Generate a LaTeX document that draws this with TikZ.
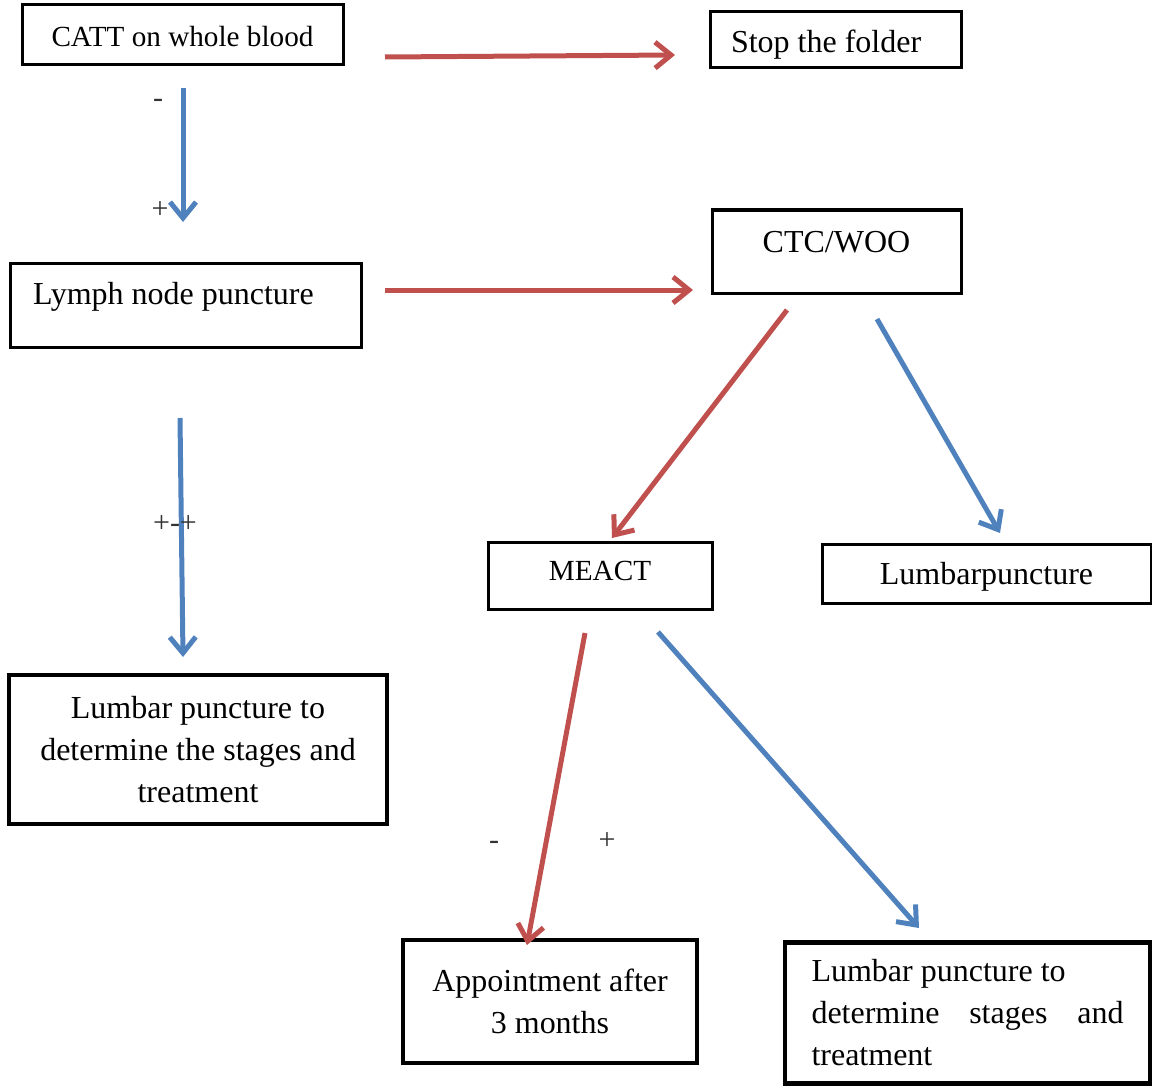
\documentclass[tikz,border=0pt]{standalone}
\usepackage{fontspec}
\setmainfont{Liberation Serif}
\usetikzlibrary{arrows.meta}
\definecolor{flowred}{RGB}{192,80,77}
\definecolor{flowblue}{RGB}{79,129,189}
\begin{document}
\begin{tikzpicture}[x=0.5pt,y=0.5pt,yscale=-1,
    box/.style={draw, line width=1.5pt, inner sep=0pt, font=\fontsize{16}{21}\selectfont},
    heavybox/.style={box, line width=2.4pt},
    smalltext/.style={font=\fontsize{14.6}{21}\selectfont},
    redarrow/.style={draw=flowred, line width=2.5pt, -{Straight Barb[length=8pt,width=13pt]}},
    bluearrow/.style={draw=flowblue, line width=2.5pt, -{Straight Barb[length=8pt,width=13pt]}},
    sign/.style={inner sep=0pt, text=black!80, font=\fontsize{15}{15}\selectfont}]
		\useasboundingbox (0,0) rectangle (1152,1086);
		
		% Boxes
		\node [box, smalltext, minimum width=160.5pt, minimum height=30pt, text height=11.6pt, text depth=0pt] (catt) at (182.5,35) {CATT on whole blood};
		\node [box, minimum width=125.5pt, minimum height=28pt, text width=104.5pt, align=flush left, text height=12.6pt, text depth=0pt] (stopfolder) at (835.5,40) {Stop the folder};
		\node [box, minimum width=175.5pt, minimum height=42pt, text width=152.5pt, align=flush left, text height=11pt, text depth=11.4pt] (lymph) at (185.5,305) {Lymph node puncture};
		\node [box, minimum width=124.5pt, minimum height=41.5pt, text height=11pt, text depth=9.9pt] (ctc) at (836.5,251.5) {CTC/WOO};
		\node [box, smalltext, minimum width=112pt, minimum height=33.5pt, text height=11pt, text depth=5.9pt] (meact) at (600,575.5) {MEACT};
		\node [box, minimum width=164.5pt, minimum height=29.5pt, text height=11.1pt, text depth=0pt] (lumbar) at (986.5,573.5) {Lumbarpuncture};
		\node [heavybox, minimum width=189pt, minimum height=74.5pt, align=center] (lumbstage) at (198,749.5) {Lumbar puncture to\\determine the stages and\\treatment};
		\node [heavybox, minimum width=147pt, minimum height=61.5pt, align=center] (appoint) at (550,1001.5) {Appointment after\\3 months};
		\node [heavybox, minimum width=182.5pt, minimum height=70.5pt, text width=156pt, align=flush left] (lumbtreat) at (967.5,1013) {Lumbar puncture to\\determine\hfill stages\hfill and\\treatment};
		
		% Arrow ends
		\coordinate (a1s) at (385,57);  \coordinate (a1e) at (675,55);
		\coordinate (a2s) at (183,88);  \coordinate (a2e) at (183,222);
		\coordinate (a3s) at (385,290); \coordinate (a3e) at (693,290);
		\coordinate (a4s) at (180,418); \coordinate (a4e) at (183,657);
		\coordinate (a5s) at (787,310); \coordinate (a5e) at (612,538);
		\coordinate (a6s) at (877,319); \coordinate (a6e) at (1000,533);
		\coordinate (a7s) at (585,633); \coordinate (a7e) at (527,945);
		\coordinate (a8s) at (658,632); \coordinate (a8e) at (919,928);
		
		%Straight Lines
		\draw [redarrow] (a1s) -- (a1e);
		\draw [bluearrow] (a2s) -- (a2e);
		\draw [redarrow] (a3s) -- (a3e);
		\draw [bluearrow] (a4s) -- (a4e);
		\draw [redarrow] (a5s) -- (a5e);
		\draw [bluearrow] (a6s) -- (a6e);
		\draw [redarrow] (a7s) -- (a7e);
		\draw [bluearrow] (a8s) -- (a8e);
		
		% Text Node
		\node [sign] (s1) at (158,103) {-};
		\node [sign] (s2) at (160,210) {+};
		\node [sign] (s3) at (175,524) {+-+};
		\node [sign] (s4) at (494,845) {-};
		\node [sign] (s5) at (607,841) {+};
\end{tikzpicture}
\end{document}
